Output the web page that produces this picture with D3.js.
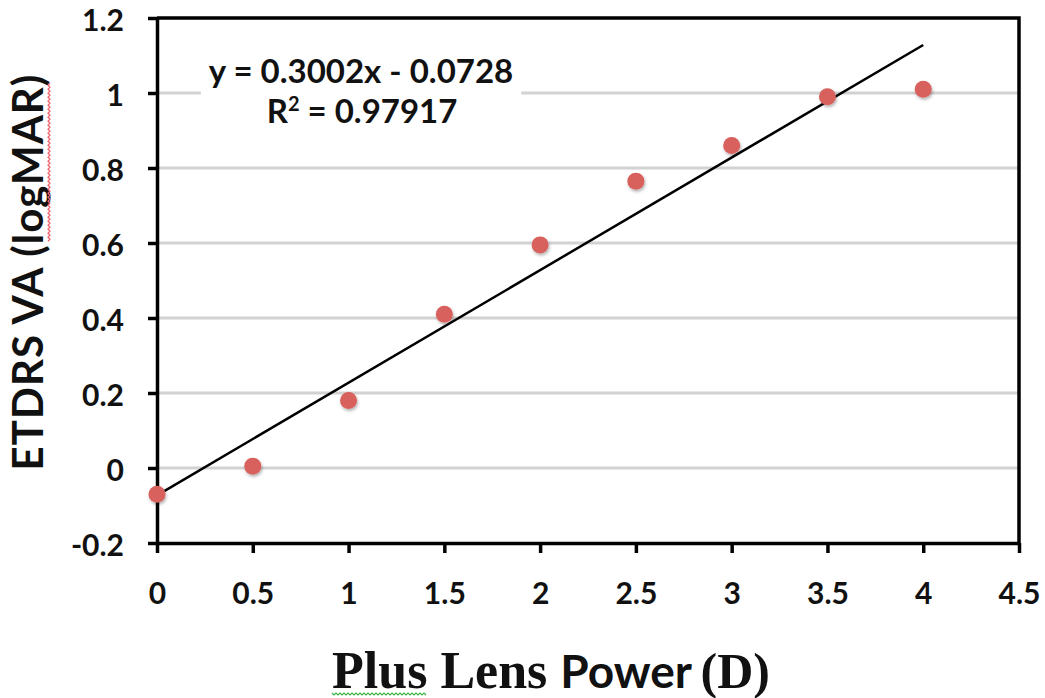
<!DOCTYPE html>
<html>
<head>
<meta charset="utf-8">
<script src="https://cdn.jsdelivr.net/npm/d3@7"></script>
<style>
  html, body { margin: 0; padding: 0; background: #fff; }
  svg { display: block; }
</style>
</head>
<body>
<div id="chart"></div>
<script>
// Plus lens power vs. ETDRS visual acuity, with linear trendline
const lensPower = [0, 0.5, 1, 1.5, 2, 2.5, 3, 3.5, 4];
const acuity    = [-0.07, 0.005, 0.18, 0.41, 0.595, 0.765, 0.86, 0.99, 1.01];
const xTicks = [0, 0.5, 1, 1.5, 2, 2.5, 3, 3.5, 4, 4.5];
const yTicks = [-0.2, 0, 0.2, 0.4, 0.6, 0.8, 1, 1.2];
const slope = 0.3002, intercept = -0.0728, rSquared = 0.97917;
const fitRange = [0, 4];

const W = 1045, H = 698;
const margin = { left: 157, right: 26, top: 18, bottom: 155 };

const svg = d3.select("#chart").append("svg")
  .attr("width", W).attr("height", H);

const defs = svg.append("defs");
const shadow = defs.append("filter").attr("id", "dotShadow")
  .attr("x", "-50%").attr("y", "-50%").attr("width", "200%").attr("height", "200%");
shadow.append("feDropShadow")
  .attr("dx", 1).attr("dy", 2).attr("stdDeviation", 1.4)
  .attr("flood-color", "#000").attr("flood-opacity", 0.3);

const x = d3.scaleLinear().domain([0, 4.5]).range([margin.left, W - margin.right]);
const y = d3.scaleLinear().domain([-0.2, 1.2]).range([H - margin.bottom, margin.top]);

const sansBold = "Lato, 'Open Sans', sans-serif";
const serif = "'Liberation Serif', 'DejaVu Serif', serif";

// horizontal gridlines
svg.append("g").selectAll("line").data(yTicks.filter(d => d > -0.2 && d < 1.2)).join("line")
  .attr("x1", x(0)).attr("x2", x(4.5))
  .attr("y1", d => y(d)).attr("y2", d => y(d))
  .attr("stroke", "#d2d2d2").attr("stroke-width", 3);

// plot frame (top and right edges)
svg.append("path")
  .attr("d", `M${x(0)},${y(1.2)}H${x(4.5)}V${y(-0.2)}`)
  .attr("fill", "none").attr("stroke", "#000").attr("stroke-width", 3.5);

// axes
const xAxis = d3.axisBottom(x).tickValues(xTicks).tickSize(10).tickPadding(30)
  .tickFormat(d => String(d));
const yAxis = d3.axisLeft(y).tickValues(yTicks).tickSize(9).tickPadding(24)
  .tickFormat(d => String(+d.toFixed(1)));

function styleAxis(g) {
  g.select(".domain").attr("stroke", "#000").attr("stroke-width", 3.5);
  g.selectAll(".tick line").attr("stroke", "#000").attr("stroke-width", 3.5);
  g.selectAll(".tick text").attr("fill", "#111")
    .style("font-family", sansBold).style("font-weight", 700).style("font-size", "30px");
}
svg.append("g").attr("transform", `translate(0,${y(-0.2)})`)
  .call(xAxis.tickSizeOuter(0)).call(styleAxis);
const yG = svg.append("g").attr("transform", `translate(${x(0)},0)`)
  .call(yAxis.tickSizeOuter(0)).call(styleAxis);
yG.selectAll(".tick text").attr("dy", "0.42em");

// trendline
svg.append("line")
  .attr("x1", x(fitRange[0])).attr("y1", y(slope * fitRange[0] + intercept))
  .attr("x2", x(fitRange[1])).attr("y2", y(slope * fitRange[1] + intercept))
  .attr("stroke", "#000").attr("stroke-width", 2.5);

// data points
svg.append("g").selectAll("circle").data(lensPower.map((p, i) => [p, acuity[i]])).join("circle")
  .attr("cx", d => x(d[0])).attr("cy", d => y(d[1])).attr("r", 8.5)
  .attr("fill", "#d8605d").attr("filter", "url(#dotShadow)");

// regression label
const eq = svg.append("g");
const eqBg = eq.append("rect").attr("fill", "#fff");
const eqText = eq.append("text").attr("text-anchor", "middle")
  .style("font-family", sansBold).style("font-weight", 700).style("font-size", "33px").attr("fill", "#111");
eqText.append("tspan").attr("x", 361).attr("y", 83)
  .text(`y = ${slope}x - ${Math.abs(intercept)}`);
const r2 = eqText.append("tspan").attr("x", 362).attr("y", 123);
r2.append("tspan").text("R");
r2.append("tspan").attr("dy", -12).style("font-size", "20px").text("2");
r2.append("tspan").attr("dy", 12).text(` = ${rSquared}`);
const bb = eqText.node().getBBox();
eqBg.attr("x", bb.x - 8).attr("y", bb.y).attr("width", bb.width + 16).attr("height", bb.height);

// y-axis title
const titleCY = 272, titleFont = 42, titleSpacing = 1;
const yTitle = svg.append("text")
  .attr("transform", `translate(43,${titleCY}) rotate(-90)`)
  .attr("text-anchor", "middle")
  .style("font-family", sansBold).style("font-weight", 700).style("font-size", titleFont + "px")
  .style("letter-spacing", titleSpacing + "px")
  .attr("fill", "#111")
  .text("ETDRS VA (logMAR)");

// x-axis title: mixed serif / sans runs
const xTitle = svg.append("text").attr("x", 332).attr("y", 688).attr("fill", "#111")
  .style("font-weight", 700);
const tPlus = xTitle.append("tspan").style("font-family", serif).style("font-size", "52px").text("Plus");
xTitle.append("tspan").style("font-family", serif).style("font-size", "52px").text(" Lens ");
xTitle.append("tspan").style("font-family", sansBold).style("font-size", "46px").text("Power");
xTitle.append("tspan").style("font-family", serif).style("font-size", "50px").attr("dx", -4).text(" (D)");

// proofing squiggles under "Plus" and "logMAR"
function squiggle(len, amp, period) {
  let d = "M0,0";
  for (let t = 0; t <= len; t += period / 2) {
    d += `L${t},${((t / (period / 2)) % 2 === 0 ? 0 : amp)}`;
  }
  return d;
}
const plusLen = tPlus.node().getComputedTextLength();
svg.append("path").attr("d", squiggle(plusLen, 2, 4))
  .attr("transform", `translate(332,693)`)
  .attr("fill", "none").attr("stroke", "#3bb54a").attr("stroke-width", 1.2);

// red squiggle along "logMAR" in the rotated title
const full = yTitle.node().getComputedTextLength();
const ctx = document.createElement("canvas").getContext("2d");
ctx.font = `700 ${titleFont}px ${sansBold}`;
const preW = ctx.measureText("ETDRS VA (").width + titleSpacing * 10;
const wordW = ctx.measureText("logMAR").width + titleSpacing * 6;
const startY = titleCY + full / 2 - preW;
svg.append("path").attr("d", squiggle(wordW, 2, 4))
  .attr("transform", `translate(48,${startY}) rotate(-90)`)
  .attr("fill", "none").attr("stroke", "#f0606a").attr("stroke-width", 1.2);
</script>
</body>
</html>
